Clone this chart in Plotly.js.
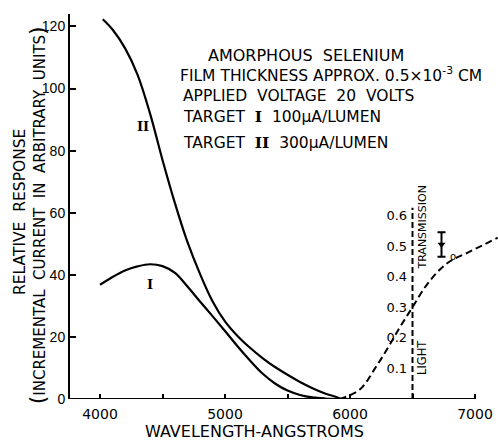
<!DOCTYPE html>
<html>
<head>
<meta charset="utf-8">
<script src="https://cdn.plot.ly/plotly-3.0.1.min.js"></script>
<style>html,body{margin:0;padding:0;background:#fff;}#chart{width:498px;height:442px;}</style>
</head>
<body>
<div id="chart"></div>
<script>
// Target I response curve
const wlI = [4000, 4100, 4200, 4300, 4400, 4500, 4600, 4700, 4800, 4900, 5000, 5100, 5200, 5300, 5400, 5500, 5600, 5700, 5800, 5900];
const respI = [36.8, 39.3, 41.4, 42.7, 43.4, 42.8, 40.6, 36.2, 31.4, 26.7, 21.9, 17.0, 12.4, 8.2, 5.0, 2.7, 1.3, 0.5, 0.15, 0];
// Target II response curve
const wlII = [4022, 4100, 4200, 4300, 4400, 4500, 4600, 4700, 4800, 4900, 5000, 5100, 5200, 5300, 5400, 5500, 5600, 5700, 5800, 5900, 5930];
const respII = [122.3, 119.0, 113.0, 104.5, 92.0, 77.0, 63.0, 50.5, 40.3, 31.5, 25.0, 20.3, 16.5, 13.2, 10.3, 7.8, 5.5, 3.5, 1.8, 0.5, 0];
// Light transmission (dashed)
const wlT = [5916, 6076, 6200, 6300, 6400, 6500, 6600, 6700, 6800, 6950, 7182];
const transT = [0, 0.03, 0.10, 0.165, 0.235, 0.30, 0.365, 0.415, 0.45, 0.48, 0.527];
// I0 reference mark
const wlI0 = [6732];
const transI0 = [0.505];
const errI0 = [0.04];
// axes
const xTicks = [4000, 5000, 6000, 7000];
const xMinorTicks = [4500, 5500, 6500];
const yTicks = [0, 20, 40, 60, 80, 100, 120];
const tTicks = [0.1, 0.2, 0.3, 0.4, 0.5, 0.6];
const tTickText = ['0.1', '0.2', '0.3', '0.4', '0.5', '0.6'];

const F = 'DejaVu Sans, sans-serif';
const SER = 'DejaVu Serif, serif';
const lineStyle = {color: '#000', width: 2.2, shape: 'spline', smoothing: 1};

const traces = [
  {x: wlI, y: respI, mode: 'lines', line: lineStyle, hoverinfo: 'none'},
  {x: wlII, y: respII, mode: 'lines', line: lineStyle, hoverinfo: 'none'},
  {x: wlT, y: transT, yaxis: 'y2', mode: 'lines',
   line: {color: '#000', width: 2, dash: '7px,4px', shape: 'spline', smoothing: 1}, hoverinfo: 'none'},
  {x: wlI0, y: transI0, yaxis: 'y2', mode: 'markers',
   marker: {symbol: 'triangle-down', size: 7, color: '#000'},
   error_y: {type: 'data', array: errI0, visible: true, color: '#000', thickness: 2, width: 4}, hoverinfo: 'none'}
];

const fnt = (size, fam, w) => ({family: fam || F, size: size, color: '#000', weight: w || 'normal'});
const ann = (text, x, y, opts) => Object.assign({
  text: text, x: x, y: y, xref: 'paper', yref: 'paper', showarrow: false,
  xanchor: 'center', yanchor: 'middle', font: fnt(15.5)
}, opts || {});

const layout = {
  width: 498, height: 442,
  margin: {l: 70, r: 0, t: 14, b: 43},
  paper_bgcolor: '#fff', plot_bgcolor: '#fff',
  showlegend: false,
  font: {family: F, color: '#000'},
  xaxis: {
    range: [3760, 7184], tickmode: 'array', tickvals: xTicks,
    ticks: 'inside', ticklen: 5, tickwidth: 2, tickcolor: '#000',
    minor: {tickmode: 'array', tickvals: xMinorTicks, ticks: 'inside', ticklen: 5, tickwidth: 2, tickcolor: '#000', showgrid: false},
    showline: false, showgrid: false, zeroline: false,
    ticklabelstandoff: 5,
    tickfont: fnt(14)
  },
  yaxis: {
    range: [0, 124], tickvals: yTicks,
    ticks: 'inside', ticklen: 6, tickwidth: 2, tickcolor: '#000',
    showline: true, linewidth: 2, linecolor: '#000',
    showgrid: false, zeroline: false,
    tickfont: fnt(14, 'Liberation Sans, Arial, sans-serif')
  },
  yaxis2: {
    overlaying: 'y', anchor: 'free', side: 'left', position: (412.7 - 70) / 428,
    range: [0, 1.258], tickvals: tTicks, ticktext: tTickText,
    ticks: 'outside', ticklen: 3, tickcolor: 'rgba(0,0,0,0)',
    showline: false, showgrid: false, zeroline: false,
    tickfont: fnt(13)
  },
  shapes: [
    {type: 'line', xref: 'x', yref: 'y', x0: 3760, x1: 7000, y0: 0, y1: 0, line: {color: '#000', width: 2}},
    {type: 'line', xref: 'x', yref: 'y2', x0: 6500, x1: 6500, y0: 0, y1: 0.625, line: {color: '#000', width: 2, dash: '6px,3px'}}
  ],
  annotations: [
    ann('AMORPHOUS  SELENIUM', 0.3178, 0.8935, {xanchor: 'left', font: fnt(16)}),
    ann('FILM THICKNESS APPROX. 0.5×10<sup>-3</sup> CM', 0.2523, 0.8416, {xanchor: 'left'}),
    ann('APPLIED  VOLTAGE  20  VOLTS', 0.2593, 0.787, {xanchor: 'left'}),
    ann('TARGET  <span style="font-family:DejaVu Serif;font-weight:bold">I</span>  100μA/LUMEN', 0.2593, 0.733, {xanchor: 'left'}),
    ann('TARGET  <span style="font-family:DejaVu Serif;font-weight:bold">II</span>  300μA/LUMEN', 0.2593, 0.665, {xanchor: 'left'}),
    ann('RELATIVE  RESPONSE', -0.1168, 0.4857, {textangle: -90}),
    ann('<span style="font-size:22px">(</span>INCREMENTAL  CURRENT  IN  ARBITRARY  UNITS<span style="font-size:22px">)</span>', -0.074, 0.478, {textangle: -90, font: fnt(15)}),
    ann('WAVELENGTH-ANGSTROMS', 0.43, -0.0857, {font: fnt(16)}),
    ann('II', 0.1706, 0.709, {font: fnt(13, SER, 'bold')}),
    ann('I', 0.187, 0.2987, {font: fnt(13, SER, 'bold')}),
    ann('LIGHT', 0.8224, 0.109, {textangle: -90, font: fnt(11.5)}),
    ann('TRANSMISSION', 0.8236, 0.444, {textangle: -90, font: fnt(11)}),
    ann('o', 0.895, 0.369, {font: fnt(10)})
  ]
};

Plotly.newPlot('chart', traces, layout, {staticPlot: true, displayModeBar: false});
</script>
</body>
</html>
